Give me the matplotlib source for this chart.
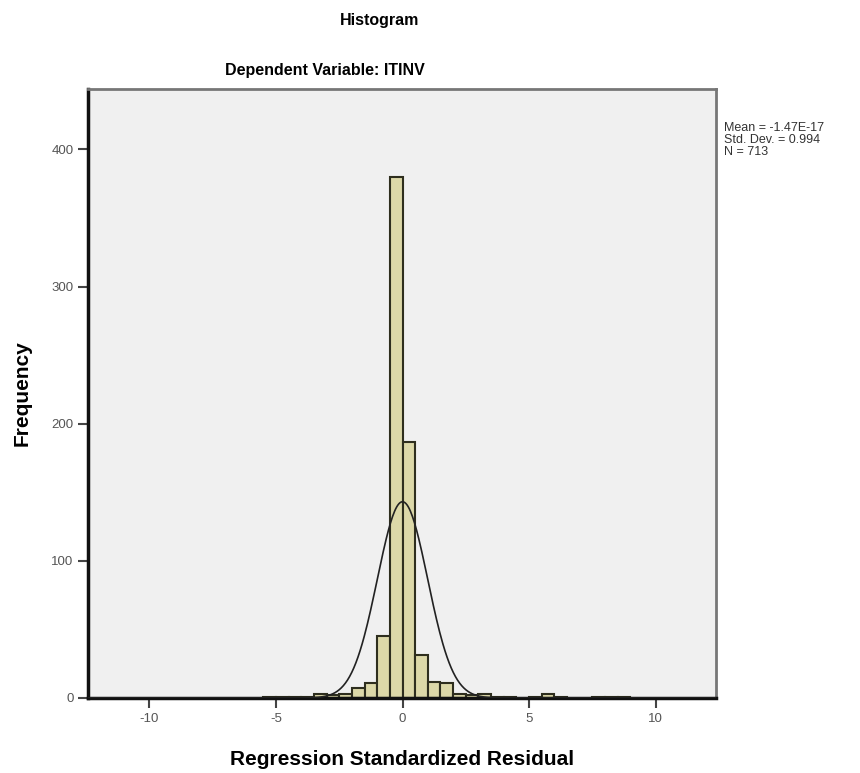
import numpy as np
import matplotlib
matplotlib.use("Agg")
import matplotlib.pyplot as plt

plt.rcParams['font.family'] = ['Liberation Sans', 'DejaVu Sans']
plt.rcParams['axes.unicode_minus'] = False

# histogram data (bin left edge, count), bin width 0.5
bin_width = 0.5
bin_starts = [-5.5, -5.0, -4.5, -4.0, -3.5, -3.0, -2.5, -2.0, -1.5, -1.0, -0.5,
              0.0, 0.5, 1.0, 1.5, 2.0, 2.5, 3.0, 3.5, 4.0, 5.0, 5.5, 6.0, 7.5, 8.0, 8.5]
counts = [1, 1, 1, 1, 3, 2, 3, 7, 11, 45, 380,
          187, 31, 12, 11, 3, 2, 3, 1, 1, 1, 3, 1, 1, 1, 1]

# summary stats shown in the chart
mean = -1.47e-17
std = 0.994
n = 713

x_ticks = [-10, -5, 0, 5, 10]
y_ticks = [0, 100, 200, 300, 400]

fig = plt.figure(figsize=(8.6, 7.73), dpi=100)
ax = fig.add_axes([88/860, 1 - 698/773, (716-88)/860, (698-89)/773])
ax.set_facecolor('#f0f0f0')

ax.bar(bin_starts, counts, width=bin_width, align='edge',
       color='#dcd8a8', edgecolor='#2e2e1e', linewidth=1.5, zorder=2)

# normal curve scaled to counts
xs = np.linspace(-12.4, 12.4, 600)
ys = n * bin_width / (std * np.sqrt(2 * np.pi)) * np.exp(-0.5 * ((xs - mean) / std) ** 2)
ax.plot(xs, ys, color='#222222', lw=1.2, zorder=3)

ax.set_xlim(-12.43, 12.39)
ax.set_ylim(0, 444)
ax.set_xticks(x_ticks)
ax.set_yticks(y_ticks)
ax.tick_params(axis='both', direction='out', length=7, width=1.5,
               color='#444444', labelcolor='#555555', labelsize=9.5)

for s in ['left', 'bottom']:
    ax.spines[s].set_linewidth(2.5)
    ax.spines[s].set_color('#111111')
for s in ['top', 'right']:
    ax.spines[s].set_linewidth(2)
    ax.spines[s].set_color('#777777')

ax.set_xlabel('Regression Standardized Residual', fontsize=15, fontweight='bold', labelpad=18)
ax.set_ylabel('Frequency', fontsize=15, fontweight='bold', labelpad=14)

fig.text(380/860, 1 - 20/773, 'Histogram', ha='center', va='center',
         fontsize=11.5, fontweight='bold')
fig.text(325/860, 1 - 70/773, 'Dependent Variable: ITINV', ha='center', va='center',
         fontsize=11.5, fontweight='bold')

fig.text(724/860, 1 - 122/773,
         'Mean = -1.47E-17\nStd. Dev. = 0.994\nN = %d' % n,
         ha='left', va='top', fontsize=9, color='#333333', linespacing=1.0)

fig.savefig('out.png', dpi=100)
